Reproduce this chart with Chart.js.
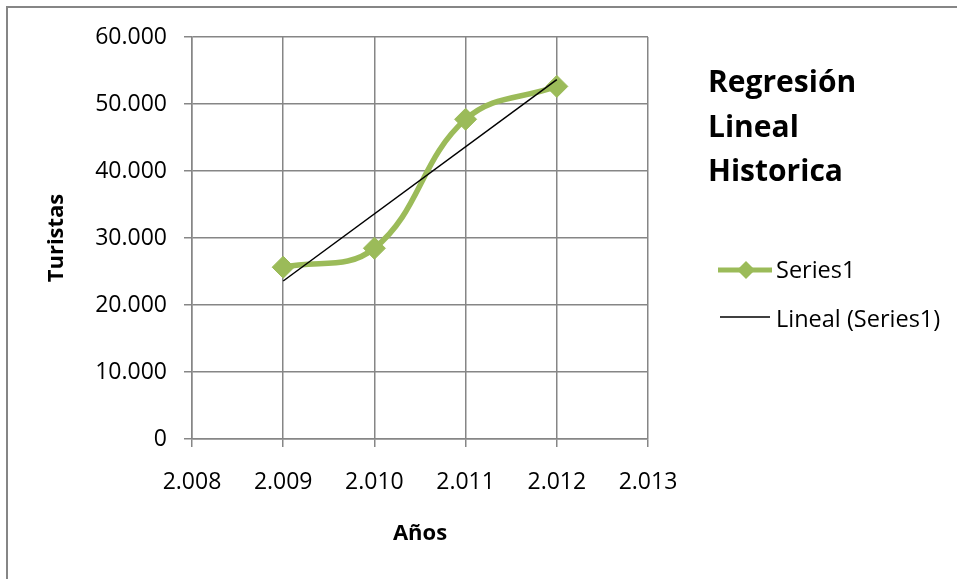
<!DOCTYPE html>
<html>
<head>
<meta charset="utf-8">
<script src="https://cdn.jsdelivr.net/npm/chart.js@4.4.0/dist/chart.umd.min.js"></script>
<style>
html, body { margin: 0; padding: 0; background: #fff; }
#wrap { width: 957px; height: 579px; }
</style>
</head>
<body>
<div id="wrap"><canvas id="myChart" width="957" height="579"></canvas></div>
<script>
// datos
var years = [2009, 2010, 2011, 2012];
var turistas = [25640, 28470, 47720, 52630];
var xTicks = [2008, 2009, 2010, 2011, 2012, 2013];
var yTicks = [0, 10000, 20000, 30000, 40000, 50000, 60000];
var titleLines = ['Regresión', 'Lineal', 'Historica'];
var seriesName = 'Series1';
var trendName = 'Lineal (Series1)';

var verde = '#9bbb59';
var gris = '#868686';
var fuente = '"Open Sans", "DejaVu Sans", sans-serif';

// separador de miles con punto
function puntos(n) {
    return String(n).replace(/\B(?=(\d{3})+(?!\d))/g, '.');
}

// recta de regresion (minimos cuadrados) sobre los datos
function regresion(xs, ys) {
    var n = xs.length, mx = 0, my = 0;
    for (var i = 0; i < n; i++) { mx += xs[i]; my += ys[i]; }
    mx /= n; my /= n;
    var num = 0, den = 0;
    for (var j = 0; j < n; j++) {
        num += (xs[j] - mx) * (ys[j] - my);
        den += (xs[j] - mx) * (xs[j] - mx);
    }
    var m = num / den;
    return function(x) { return my + m * (x - mx); };
}

var recta = regresion(years, turistas);
var puntosSerie = years.map(function(x, i) { return { x: x, y: turistas[i] }; });
var puntosRecta = [years[0], years[years.length - 1]].map(function(x) { return { x: x, y: recta(x) }; });

// borde, titulo y leyenda dibujados a mano
var decoracion = {
    id: 'decoracion',
    beforeDraw: function(chart) {
        var ctx = chart.ctx;
        ctx.save();
        ctx.fillStyle = '#fff';
        ctx.fillRect(0, 0, chart.width, chart.height);
        ctx.strokeStyle = gris;
        ctx.lineWidth = 2;
        ctx.beginPath();
        ctx.moveTo(7, chart.height);
        ctx.lineTo(7, 7);
        ctx.lineTo(chart.width, 7);
        ctx.stroke();
        ctx.restore();
    },
    afterDraw: function(chart) {
        var ctx = chart.ctx;
        ctx.save();
        ctx.fillStyle = '#000';
        ctx.textBaseline = 'alphabetic';
        ctx.textAlign = 'left';
        ctx.font = 'bold 30px ' + fuente;
        titleLines.forEach(function(t, i) {
            ctx.fillText(t, 708, 92 + i * 44.5);
        });

        // leyenda
        ctx.strokeStyle = verde;
        ctx.lineWidth = 5;
        ctx.beginPath();
        ctx.moveTo(718, 270);
        ctx.lineTo(772, 270);
        ctx.stroke();
        ctx.fillStyle = verde;
        ctx.beginPath();
        ctx.moveTo(746, 261);
        ctx.lineTo(755, 270);
        ctx.lineTo(746, 279);
        ctx.lineTo(737, 270);
        ctx.closePath();
        ctx.fill();

        ctx.strokeStyle = '#000';
        ctx.lineWidth = 1.5;
        ctx.beginPath();
        ctx.moveTo(720, 317);
        ctx.lineTo(770, 317);
        ctx.stroke();

        ctx.fillStyle = '#000';
        ctx.font = '23.5px ' + fuente;
        ctx.fillText(seriesName, 776, 278);
        ctx.fillText(trendName, 776, 327);
        ctx.restore();
    }
};

var ctx = document.getElementById('myChart').getContext('2d');
var myChart = new Chart(ctx, {
    type: 'scatter',
    data: {
        datasets: [{
            label: seriesName,
            data: puntosSerie,
            showLine: true,
            borderColor: verde,
            backgroundColor: verde,
            borderWidth: 5.5,
            tension: 0.4,
            pointStyle: 'rectRot',
            pointRadius: 11,
            pointBorderWidth: 1,
            order: 2
        }, {
            label: trendName,
            data: puntosRecta,
            showLine: true,
            borderColor: '#000',
            backgroundColor: '#000',
            borderWidth: 1.5,
            tension: 0,
            pointRadius: 0,
            order: 1
        }]
    },
    options: {
        responsive: false,
        animation: false,
        layout: { padding: { left: 0, top: 37, right: 309, bottom: 0 } },
        plugins: {
            legend: { display: false },
            title: { display: false },
            tooltip: { enabled: false }
        },
        scales: {
            x: {
                type: 'linear',
                min: 2008,
                max: 2013,
                afterBuildTicks: function(scale) {
                    scale.ticks = xTicks.map(function(v) { return { value: v }; });
                },
                afterFit: function(scale) { scale.height = 140; },
                grid: { color: gris, lineWidth: 1.5, tickLength: 8 },
                border: { color: gris, width: 1.5 },
                ticks: {
                    color: '#000',
                    font: { family: fuente, size: 23 },
                    padding: 22,
                    maxRotation: 0,
                    callback: function(v) { return puntos(v); }
                },
                title: {
                    display: true,
                    text: 'Años',
                    color: '#000',
                    font: { family: fuente, size: 22, weight: 'bold' },
                    padding: { top: 0, bottom: 32 }
                }
            },
            y: {
                min: 0,
                max: 60000,
                afterBuildTicks: function(scale) {
                    scale.ticks = yTicks.map(function(v) { return { value: v }; });
                },
                afterFit: function(scale) { scale.width = 192; },
                grid: { color: gris, lineWidth: 1.5, tickLength: 8 },
                border: { color: gris, width: 1.5 },
                ticks: {
                    color: '#000',
                    font: { family: fuente, size: 23 },
                    padding: 17,
                    callback: function(v) { return puntos(v); }
                },
                title: {
                    display: true,
                    text: 'Turistas',
                    color: '#000',
                    font: { family: fuente, size: 22, weight: 'bold' },
                    padding: { top: 44, bottom: 0 }
                }
            }
        }
    },
    plugins: [decoracion]
});
</script>
</body>
</html>
